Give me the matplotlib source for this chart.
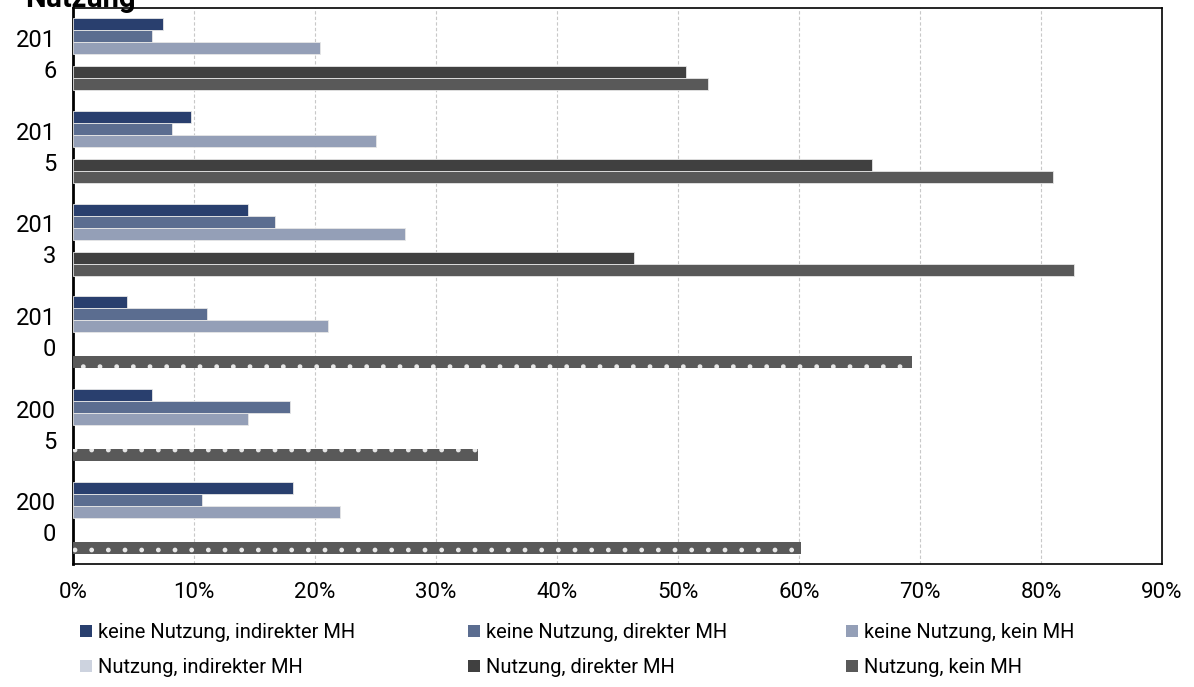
import numpy as np
import matplotlib
matplotlib.use("Agg")
import matplotlib.pyplot as plt
import matplotlib.transforms as mtransforms
from matplotlib.ticker import PercentFormatter

plt.rcParams['font.family'] = ['Roboto', 'DejaVu Sans']
plt.rcParams['hatch.linewidth'] = 1.0

years = ['2016', '2015', '2013', '2010', '2005', '2000']
year_labels = ['201\n6', '201\n5', '201\n3', '201\n0', '200\n5', '200\n0']

series = ['keine Nutzung, indirekter MH', 'keine Nutzung, direkter MH',
          'keine Nutzung, kein MH', 'Nutzung, indirekter MH',
          'Nutzung, direkter MH', 'Nutzung, kein MH']

keine_indirekt = [7.4, 9.75, 14.5, 4.5, 6.5, 18.2]
keine_direkt = [6.5, 8.2, 16.7, 11.1, 17.9, 10.7]
keine_kein = [20.4, 25.0, 27.4, 21.1, 14.5, 22.1]
nutzung_indirekt = [0, 0, 0, 0, 0, 0]
nutzung_direkt = [50.7, 66.0, 46.4, 0, 0, 0]
nutzung_kein = [52.5, 81.0, 82.7, 69.3, 33.5, 60.2]
# Jahre, in denen "Nutzung, kein MH" gepunktet dargestellt ist
dotted = [False, False, False, True, True, True]

values = [keine_indirekt, keine_direkt, keine_kein,
          nutzung_indirekt, nutzung_direkt, nutzung_kein]
colors = ['#293f6e', '#5b6d90', '#949fb7', '#cdd3df', '#404040', '#595959']

fig = plt.figure(figsize=(11.94, 6.87), dpi=100)
ax = fig.add_axes([73 / 1194, 1 - 564 / 687, (1162 - 73) / 1194, 556 / 687])

y = np.arange(len(years))
h = 0.1295
handles = []
for k, (name, vals, col) in enumerate(zip(series, values, colors)):
    pos = y + (k - 2.5) * h
    for j, v in enumerate(vals):
        if v <= 0:
            continue
        if k == 5 and dotted[j]:
            ax.barh(pos[j], v, height=h, color=col, edgecolor='#e8e8e8',
                    linewidth=0, hatch='.', zorder=3)
        else:
            ax.barh(pos[j], v, height=h, color=col, edgecolor='#e6e6e6',
                    linewidth=0.6, zorder=3)
    handles.append(ax.barh(np.nan, 0, color=col, label=name))

ax.set_ylim(5.5, -0.5)
ax.set_xlim(0, 90)
ax.set_xticks(np.arange(0, 91, 10))
ax.xaxis.set_major_formatter(PercentFormatter(decimals=0))
ax.set_yticks(y)
ax.set_yticklabels(year_labels, fontsize=17, linespacing=1.45)
ax.tick_params(axis='x', labelsize=16, length=0, pad=13)
ax.tick_params(axis='y', length=0, pad=12)
# Jahreslabels etwas nach oben schieben
shift = mtransforms.ScaledTranslation(0, 0.05, fig.dpi_scale_trans)
for lab in ax.get_yticklabels():
    lab.set_transform(lab.get_transform() + shift)
ax.xaxis.grid(True, color='#c8c8c8', linestyle=(0, (3, 2)), linewidth=0.8, zorder=0)
ax.set_axisbelow(True)
for s in ax.spines.values():
    s.set_color('black')
    s.set_linewidth(1.2)
ax.spines['left'].set_linewidth(2)

fig.text(25 / 1194, 1 - 7 / 687, 'Nutzung', fontsize=21, fontweight='bold',
         va='baseline', ha='left')

# Legende: drei Spalten, zeilenweise gefüllt
col_x = [80, 468, 846]
for c in range(3):
    idx = [c, c + 3]
    fig.legend([handles[i] for i in idx], [series[i] for i in idx],
               loc='upper left', bbox_to_anchor=(col_x[c] / 1194, 1 - 623 / 687),
               frameon=False, fontsize=14.5, handlelength=0.6,
               handleheight=0.6, handletextpad=0.3, labelspacing=0.8,
               borderpad=0, borderaxespad=0)

fig.savefig('out.png', dpi=100)
